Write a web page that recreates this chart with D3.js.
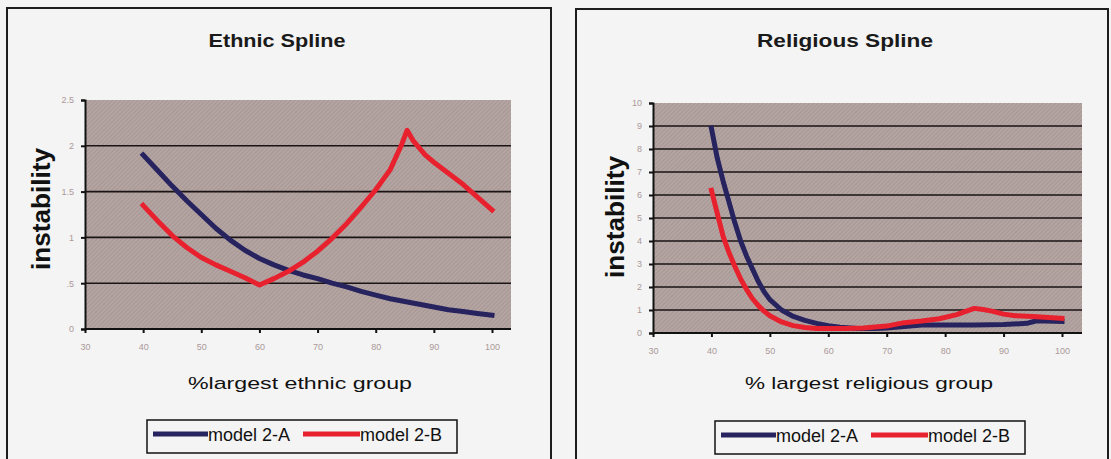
<!DOCTYPE html>
<html>
<head>
<meta charset="utf-8">
<script src="https://cdn.jsdelivr.net/npm/d3@7"></script>
<style>
  body { margin: 0; background: #f4f4f4; }
  svg { display: block; }
</style>
</head>
<body>
<script>
// ethnic spline values
var ethnicX = [40, 42.5, 45, 47.5, 50, 52.5, 55, 57.5, 60, 62.5, 65, 67.5, 70, 72.5, 75, 77.5, 80, 82.5, 85, 87.5, 90, 92.5, 95, 97.5, 100];
var ethnicA = [1.90, 1.73, 1.56, 1.40, 1.25, 1.10, 0.97, 0.86, 0.77, 0.70, 0.64, 0.59, 0.55, 0.50, 0.46, 0.41, 0.37, 0.33, 0.30, 0.27, 0.24, 0.21, 0.19, 0.17, 0.15];
var ethnicBX = [40, 42.5, 45, 47.5, 50, 52.5, 55, 57.5, 60, 62.5, 65, 67.5, 70, 72.5, 75, 77.5, 80, 82.5, 84.5, 85.4, 86.5, 88.5, 90, 92.5, 95, 97.5, 100];
var ethnicB = [1.35, 1.18, 1.02, 0.89, 0.78, 0.70, 0.63, 0.56, 0.48, 0.55, 0.63, 0.73, 0.85, 0.99, 1.15, 1.33, 1.52, 1.74, 2.02, 2.17, 2.05, 1.90, 1.82, 1.70, 1.58, 1.44, 1.30];

// religious spline values
var religX = [40, 41, 42, 43, 44, 45, 46, 47, 48, 49, 50, 52, 54, 56, 58, 60, 62, 65, 68, 70, 73, 76, 80, 85, 90, 94, 95.5, 97, 100];
var religA = [8.9, 7.6, 6.6, 5.7, 4.8, 4.0, 3.35, 2.8, 2.25, 1.8, 1.45, 1.0, 0.72, 0.55, 0.42, 0.32, 0.25, 0.2, 0.2, 0.22, 0.28, 0.35, 0.35, 0.35, 0.37, 0.42, 0.52, 0.52, 0.5];
var religBX = [40, 41, 42, 43, 44, 45, 46, 47, 48, 49, 50, 52, 54, 56, 58, 60, 63, 66, 68, 70, 73, 76, 79, 82, 84, 85, 86.5, 88, 90, 92, 95, 100];
var religB = [6.2, 5.2, 4.2, 3.5, 2.9, 2.35, 1.9, 1.5, 1.2, 0.95, 0.75, 0.48, 0.32, 0.24, 0.2, 0.2, 0.2, 0.22, 0.26, 0.3, 0.45, 0.52, 0.62, 0.8, 0.98, 1.07, 1.02, 0.95, 0.82, 0.75, 0.72, 0.64];

var xTicks = [30, 40, 50, 60, 70, 80, 90, 100];
var ethnicYTicks = [0, 0.5, 1, 1.5, 2, 2.5];
var ethnicYLabels = ['0', '.5', '1', '1.5', '2', '2.5'];
var religYTicks = [0, 1, 2, 3, 4, 5, 6, 7, 8, 9, 10];

var seriesNames = ['model 2-A', 'model 2-B'];
var colors = ['#26235f', '#e8212e'];

var width = 1111, height = 459;

var svg = d3.select('body').append('svg')
    .attr('width', width)
    .attr('height', height);

// hatched grey-mauve plot background like the scanned excel chart
var defs = svg.append('defs');
var pat = defs.append('pattern')
    .attr('id', 'hatch')
    .attr('width', 3).attr('height', 3)
    .attr('patternUnits', 'userSpaceOnUse')
    .attr('patternTransform', 'rotate(45)');
pat.append('rect').attr('width', 3).attr('height', 3).attr('fill', '#b4a5a3');
pat.append('line').attr('x1', 0).attr('y1', 0).attr('x2', 0).attr('y2', 3)
    .attr('stroke', '#9d8e8c').attr('stroke-width', 1.2);

function panel(p) {
    var g = svg.append('g');

    // panel frame
    g.append('rect')
        .attr('x', p.box[0]).attr('y', p.box[1])
        .attr('width', p.box[2] - p.box[0]).attr('height', 500)
        .attr('fill', 'none').attr('stroke', '#1d1d1d').attr('stroke-width', 2);

    var x = d3.scaleLinear().domain([30, 100]).range([p.left, p.x100]);
    var y = d3.scaleLinear().domain(p.yDomain).range([p.bottom, p.top]);

    g.append('rect')
        .attr('x', p.left).attr('y', p.top)
        .attr('width', p.right - p.left).attr('height', p.bottom - p.top)
        .attr('fill', 'url(#hatch)');

    // gridlines (none at the top edge)
    g.selectAll('.grid')
        .data(p.yTicks.slice(1, -1))
        .enter().append('line')
            .attr('x1', p.left).attr('x2', p.right)
            .attr('y1', function(d) { return y(d); })
            .attr('y2', function(d) { return y(d); })
            .attr('stroke', '#1a1414').attr('stroke-width', 1.6);

    // axes
    var yAxis = d3.axisLeft(y).tickValues(p.yTicks).tickSize(4).tickPadding(7)
        .tickFormat(function(d, i) { return p.yLabels[i]; });
    var xAxis = d3.axisBottom(x).tickValues(xTicks).tickSize(4).tickPadding(11);

    var ya = g.append('g').attr('transform', 'translate(' + p.left + ',0)').call(yAxis);
    var xa = g.append('g').attr('transform', 'translate(0,' + p.bottom + ')').call(xAxis);
    xa.select('.domain').attr('d', 'M' + p.left + ',0H' + p.right);
    [ya, xa].forEach(function(a) {
        a.select('.domain').attr('stroke', '#111').attr('stroke-width', 2);
        a.selectAll('.tick line').attr('stroke', '#111').attr('stroke-width', 2);
        a.selectAll('.tick text')
            .attr('fill', '#a99')
            .style('font-family', 'Liberation Sans, Arial, sans-serif')
            .style('font-size', '9px');
    });

    // the two model curves
    var line = d3.line()
        .x(function(d) { return x(d[0]); })
        .y(function(d) { return y(d[1]); });
    p.series.forEach(function(s, i) {
        g.append('path')
            .datum(d3.zip(s.x, s.y))
            .attr('d', line)
            .attr('fill', 'none')
            .attr('stroke', colors[i])
            .attr('stroke-width', 5)
            .attr('stroke-linejoin', 'round')
            .attr('stroke-linecap', 'square');
    });

    // title
    g.append('text')
        .attr('x', p.titleX).attr('y', 47)
        .attr('text-anchor', 'middle')
        .attr('textLength', p.titleLen).attr('lengthAdjust', 'spacingAndGlyphs')
        .style('font-family', 'Liberation Sans, Arial, sans-serif')
        .style('font-weight', 'bold').style('font-size', '18px')
        .attr('fill', '#1a1a1a')
        .text(p.title);

    // y title
    g.append('text')
        .attr('transform', 'translate(' + p.yLabX + ',' + p.yLabY + ') rotate(-90)')
        .attr('text-anchor', 'middle')
        .attr('textLength', 122).attr('lengthAdjust', 'spacingAndGlyphs')
        .style('font-family', 'Liberation Sans, Arial, sans-serif')
        .style('font-weight', 'bold').style('font-size', '25px')
        .attr('fill', '#111')
        .text('instability');

    // x title
    g.append('text')
        .attr('x', p.xLabX).attr('y', 389)
        .attr('text-anchor', 'middle')
        .attr('textLength', p.xLabLen).attr('lengthAdjust', 'spacingAndGlyphs')
        .style('font-family', 'Liberation Sans, Arial, sans-serif')
        .style('font-size', '17px')
        .attr('fill', '#111')
        .text(p.xLab);

    // legend
    var lg = g.append('g').attr('transform', 'translate(' + p.leg[0] + ',' + p.leg[1] + ')');
    lg.append('rect')
        .attr('width', 310).attr('height', 33)
        .attr('fill', 'none').attr('stroke', '#111').attr('stroke-width', 1.5);
    var items = [[6, 61], [156, 213]];
    seriesNames.forEach(function(n, i) {
        lg.append('line')
            .attr('x1', items[i][0]).attr('x2', items[i][1])
            .attr('y1', 14).attr('y2', 14)
            .attr('stroke', colors[i]).attr('stroke-width', 5);
        lg.append('text')
            .attr('x', items[i][1]).attr('y', 21)
            .style('font-family', 'Liberation Sans, Arial, sans-serif')
            .style('font-size', '18px')
            .attr('fill', '#111')
            .text(n);
    });
}

panel({
    box: [7, 8, 551],
    left: 85, x100: 492, right: 511, top: 100, bottom: 329,
    yDomain: [0, 2.5], yTicks: ethnicYTicks, yLabels: ethnicYLabels,
    series: [{ x: ethnicX, y: ethnicA }, { x: ethnicBX, y: ethnicB }],
    title: 'Ethnic Spline', titleX: 277, titleLen: 137,
    yLabX: 50, yLabY: 209,
    xLab: '%largest ethnic group', xLabX: 300, xLabLen: 224,
    leg: [147, 420]
});

panel({
    box: [576, 9, 1108],
    left: 653, x100: 1062, right: 1082, top: 103, bottom: 333,
    yDomain: [0, 10], yTicks: religYTicks, yLabels: religYTicks.map(String),
    series: [{ x: religX, y: religA }, { x: religBX, y: religB }],
    title: 'Religious Spline', titleX: 845, titleLen: 176,
    yLabX: 624, yLabY: 217,
    xLab: '% largest religious group', xLabX: 869, xLabLen: 248,
    leg: [715, 421]
});
</script>
</body>
</html>
